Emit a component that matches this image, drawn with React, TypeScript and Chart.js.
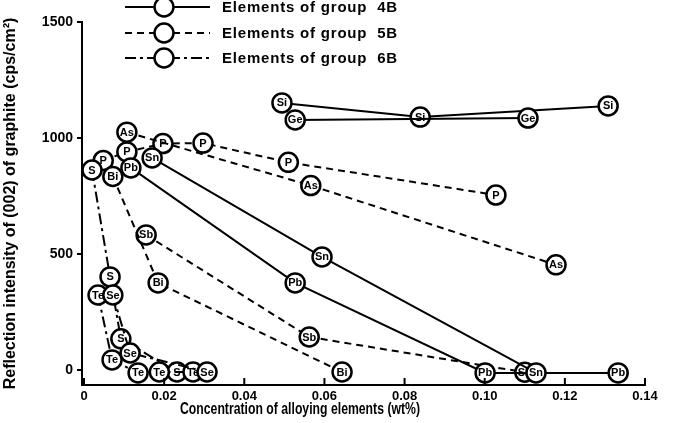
import React, { useEffect, useRef } from "react";
import { Chart, registerables } from "chart.js";

Chart.register(...registerables);

// ---- axis ticks ----
const xTickValues = [0, 0.02, 0.04, 0.06, 0.08, 0.1, 0.12, 0.14];
const xTickLabels = ["0", "0.02", "0.04", "0.06", "0.08", "0.10", "0.12", "0.14"];
const yTickValues = [0, 500, 1000, 1500];

// ---- group 4B (solid) ----
const siX = [0.0494, 0.0839, 0.1308];
const siY = [1151, 1090, 1138];
const geX = [0.0527, 0.1108];
const geY = [1078, 1086];
const snX = [0.017, 0.0594, 0.1128];
const snY = [914, 487, -13];
const pbX = [0.0117, 0.0527, 0.1001, 0.1333];
const pbY = [871, 375, -13, -13];

// ---- group 5B (dashed) ----
const pX = [0.0048, 0.0107, 0.0197, 0.0297, 0.051, 0.1028];
const pY = [903, 940, 976, 978, 895, 754];
const asX = [0.0107, 0.0566, 0.1178];
const asY = [1025, 795, 453];
const sbX = [0.0155, 0.0562, 0.11];
const sbY = [582, 142, -10];
const biX = [0.0072, 0.0185, 0.0644];
const biY = [834, 375, -9];

// ---- group 6B (dash-dot) ----
const sX = [0.002, 0.0065, 0.0092, 0.0232];
const sY = [862, 401, 134, -9];
const teX = [0.0035, 0.007, 0.0135, 0.0188, 0.0272];
const teY = [323, 43, -13, -9, -9];
const seX = [0.0072, 0.0115, 0.0307];
const seY = [323, 73, -9];

const legendLabels = ["Elements of group  4B", "Elements of group  5B", "Elements of group  6B"];
const xTitle = "Concentration of alloying elements (wt%)";
const yTitle = "Reflection intensity of (002) of graphite (cps/cm\u00b2)";

const DASH_5B = [7, 5];
const DASH_6B = [11, 4, 3, 4];

type Series = { name: string; xs: number[]; ys: number[]; dash: number[] };

// listed bottom-most first
const seriesList: Series[] = [
  { name: "Si", xs: siX, ys: siY, dash: [] },
  { name: "Ge", xs: geX, ys: geY, dash: [] },
  { name: "P", xs: pX, ys: pY, dash: DASH_5B },
  { name: "As", xs: asX, ys: asY, dash: DASH_5B },
  { name: "Sb", xs: sbX, ys: sbY, dash: DASH_5B },
  { name: "Pb", xs: pbX, ys: pbY, dash: [] },
  { name: "Sn", xs: snX, ys: snY, dash: [] },
  { name: "Bi", xs: biX, ys: biY, dash: DASH_5B },
  { name: "S", xs: sX, ys: sY, dash: DASH_6B },
  { name: "Te", xs: teX, ys: teY, dash: DASH_6B },
  { name: "Se", xs: seX, ys: seY, dash: DASH_6B },
];

const FONT = '"Liberation Sans", Arial, sans-serif';

export default function App() {
  const ref = useRef<HTMLCanvasElement | null>(null);

  useEffect(() => {
    document.body.style.margin = "0";
    const canvas = ref.current;
    if (!canvas) return;

    const ordered = [...seriesList].reverse(); // index 0 is drawn on top
    const datasets = ordered.map((s) => ({
      label: s.name,
      data: s.xs.map((x, i) => ({ x, y: s.ys[i] })),
      borderColor: "#000",
      borderWidth: 2,
      borderDash: s.dash,
      backgroundColor: "#fff",
      pointRadius: 9.5,
      pointBackgroundColor: "#fff",
      pointBorderColor: "#000",
      pointBorderWidth: 2.5,
      tension: 0,
      clip: false as const,
      showLine: true,
    }));

    const markerLabels = {
      id: "markerLabels",
      afterDatasetDraw(chart: any, args: any) {
        const ctx = chart.ctx;
        const ds = chart.data.datasets[args.index];
        ctx.save();
        ctx.fillStyle = "#000";
        ctx.font = `bold 11px ${FONT}`;
        ctx.textAlign = "center";
        ctx.textBaseline = "middle";
        args.meta.data.forEach((pt: any) => {
          ctx.fillText(ds.label, pt.x, pt.y + 0.5);
        });
        ctx.restore();
      },
    };

    const decorations = {
      id: "decorations",
      afterDraw(chart: any) {
        const ctx = chart.ctx;
        const xs = chart.scales.x;
        const area = chart.chartArea;
        ctx.save();
        // inward x ticks
        ctx.strokeStyle = "#000";
        ctx.lineWidth = 2;
        xTickValues.forEach((v) => {
          const px = xs.getPixelForValue(v);
          ctx.beginPath();
          ctx.moveTo(px, area.bottom);
          ctx.lineTo(px, area.bottom - 7);
          ctx.stroke();
        });
        // x title (condensed to the reference width)
        ctx.fillStyle = "#000";
        ctx.font = `bold 17px ${FONT}`;
        ctx.textAlign = "center";
        ctx.textBaseline = "middle";
        const w = ctx.measureText(xTitle).width;
        const sx = 240 / w;
        ctx.save();
        ctx.translate(300, 409);
        ctx.scale(sx, 1);
        ctx.fillText(xTitle, 0, 0);
        ctx.restore();
        // legend
        const dashes = [[], DASH_5B, DASH_6B];
        const rowsY = [7, 33, 58];
        rowsY.forEach((ry, i) => {
          ctx.strokeStyle = "#000";
          ctx.setLineDash(dashes[i]);
          ctx.lineWidth = 2;
          ctx.beginPath();
          ctx.moveTo(125, ry);
          ctx.lineTo(210, ry);
          ctx.stroke();
          ctx.setLineDash([]);
          ctx.beginPath();
          ctx.arc(164, ry, 9.5, 0, Math.PI * 2);
          ctx.fillStyle = "#fff";
          ctx.fill();
          ctx.lineWidth = 2.5;
          ctx.stroke();
          ctx.fillStyle = "#000";
          ctx.font = `bold 15px ${FONT}`;
          ctx.textAlign = "left";
          ctx.textBaseline = "middle";
          (ctx as any).letterSpacing = "0.8px";
          ctx.fillText(legendLabels[i], 222, ry + 1);
          (ctx as any).letterSpacing = "0px";
        });
        ctx.restore();
      },
    };

    const chart = new Chart(canvas, {
      type: "line",
      data: { datasets },
      options: {
        animation: false,
        responsive: false,
        devicePixelRatio: 1,
        layout: { padding: { top: 22, right: 29, left: 0, bottom: 0 } },
        plugins: { legend: { display: false }, tooltip: { enabled: false }, title: { display: false } },
        scales: {
          x: {
            type: "linear",
            min: -0.0005,
            max: 0.14,
            afterBuildTicks: (scale: any) => {
              scale.ticks = xTickValues.map((v) => ({ value: v }));
            },
            afterFit: (scale: any) => {
              scale.height = 38;
            },
            ticks: {
              padding: 4,
              color: "#000",
              maxRotation: 0,
              autoSkip: false,
              font: { family: FONT, size: 13, weight: "bold" },
              callback: (v: any) => {
                const i = xTickValues.findIndex((t) => Math.abs(t - Number(v)) < 1e-9);
                return i >= 0 ? xTickLabels[i] : "";
              },
            },
            grid: { display: false, drawTicks: false },
            border: { display: true, color: "#000", width: 2 },
          },
          y: {
            type: "linear",
            min: -65,
            max: 1500,
            afterBuildTicks: (scale: any) => {
              scale.ticks = yTickValues.map((v) => ({ value: v }));
            },
            afterFit: (scale: any) => {
              scale.width = 82;
            },
            ticks: {
              padding: 4,
              color: "#000",
              autoSkip: false,
              font: { family: FONT, size: 14, weight: "bold" },
              callback: (v: any) => String(v),
            },
            grid: { display: true, drawOnChartArea: false, drawTicks: true, tickLength: 5, color: "#000", lineWidth: 2 },
            border: { display: true, color: "#000", width: 2 },
            title: {
              display: true,
              text: yTitle,
              color: "#000",
              padding: { top: 1, bottom: 0 },
              font: { family: FONT, size: 16, weight: "bold" },
            },
          },
        },
      },
      plugins: [markerLabels, decorations],
    });

    return () => chart.destroy();
  }, []);

  return (
    <div style={{ width: 674, height: 423 }}>
      <canvas ref={ref} width={674} height={423} style={{ display: "block" }} />
    </div>
  );
}
